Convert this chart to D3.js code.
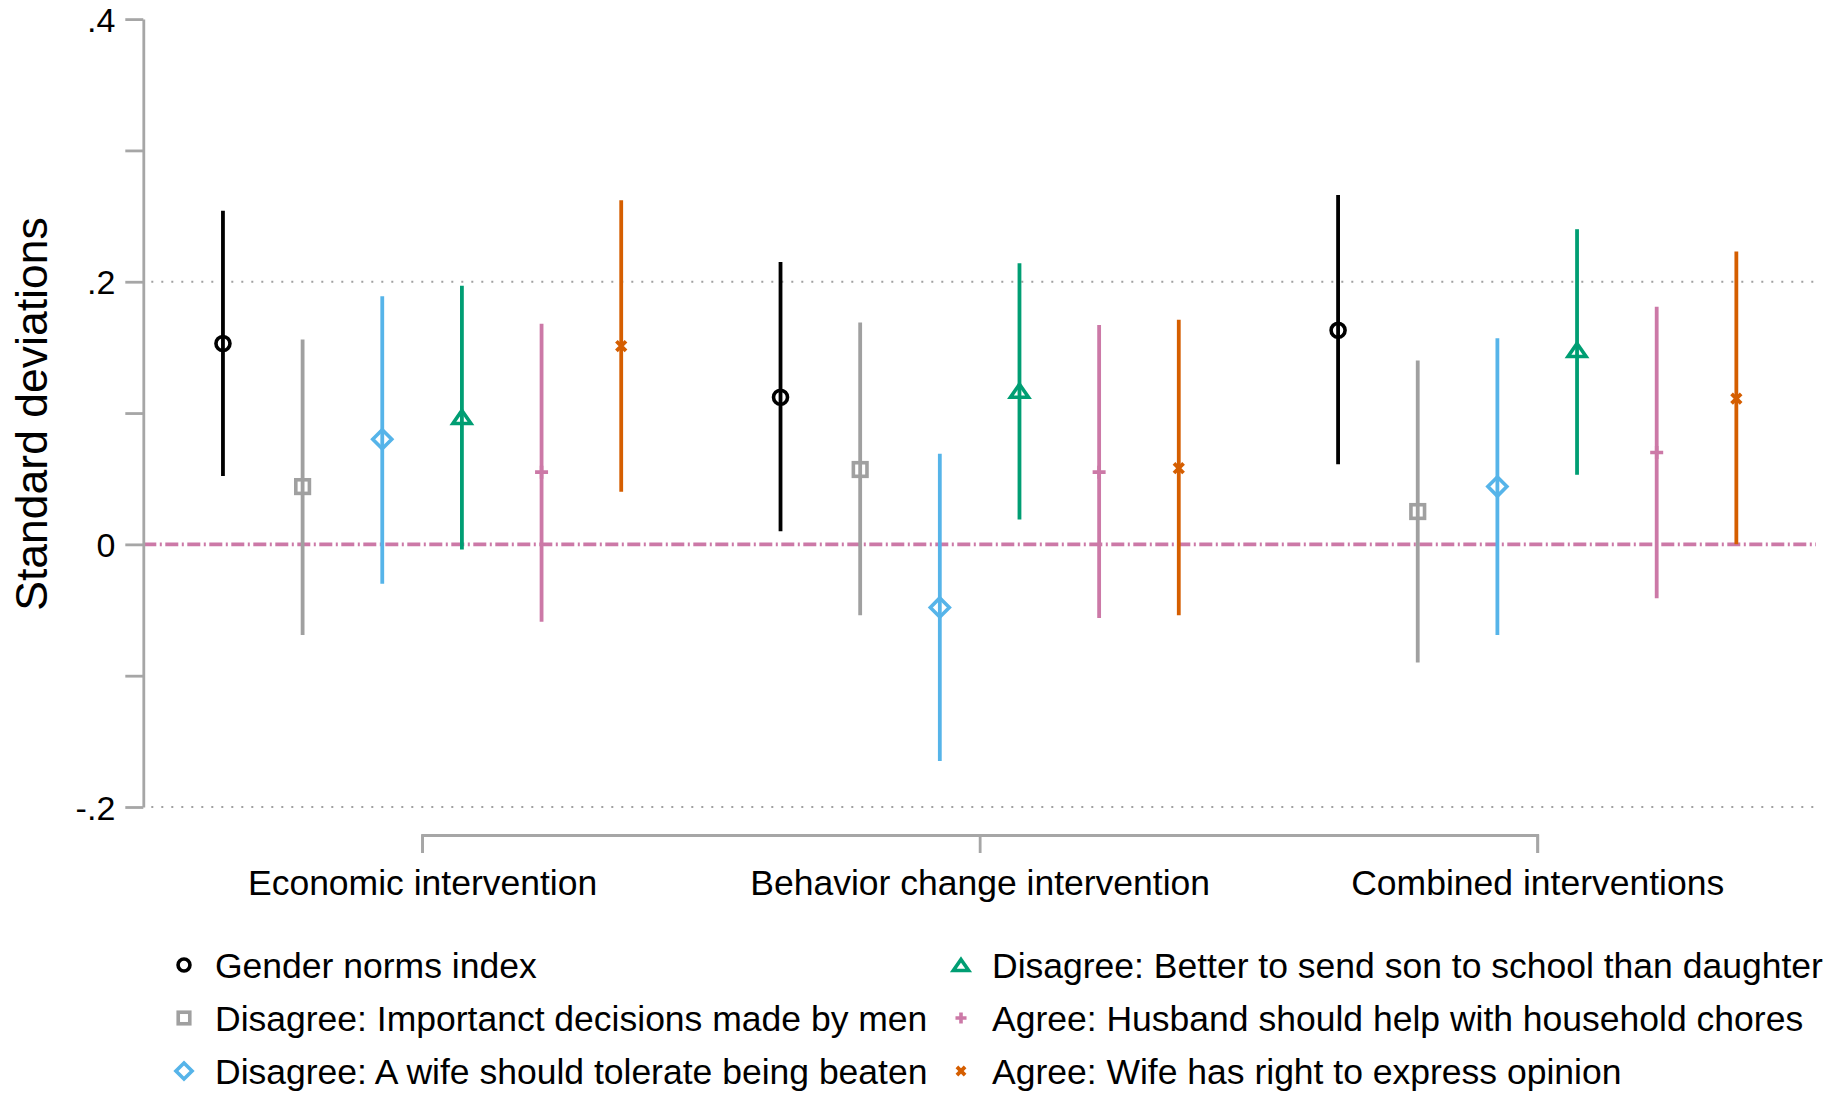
<!DOCTYPE html>
<html><head><meta charset="utf-8">
<script src="https://cdn.jsdelivr.net/npm/d3@7"></script>
<style>
body{margin:0;background:#fff}
svg{display:block}
text{font-family:"Liberation Sans",Arial,Helvetica,sans-serif;fill:#000}
</style>
</head><body>
<svg id="chart" width="1837" height="1093"></svg>
<script>
// ---------------- data ----------------
const groups = ["Economic intervention", "Behavior change intervention", "Combined interventions"];
const seriesNames = [
  "Gender norms index",
  "Disagree: Importanct decisions made by men",
  "Disagree: A wife should tolerate being beaten",
  "Disagree: Better to send son to school than daughter",
  "Agree: Husband should help with household chores",
  "Agree: Wife has right to express opinion"
];
const seriesColors = ["#000000", "#a0a0a0", "#56b4e9", "#009e73", "#cc79a7", "#d55e00"];
const seriesSymbols = ["circle", "square", "diamond", "triangle", "plus", "cross"];
// one row per series, one value per group
const estimates = [
  [0.153, 0.112, 0.163],
  [0.044, 0.057, 0.025],
  [0.080, -0.048, 0.044],
  [0.097, 0.117, 0.148],
  [0.055, 0.055, 0.070],
  [0.151, 0.058, 0.111]
];
const lowerCI = [
  [0.052, 0.010, 0.061],
  [-0.069, -0.054, -0.090],
  [-0.030, -0.165, -0.069],
  [-0.004, 0.019, 0.053],
  [-0.059, -0.056, -0.041],
  [0.040, -0.054, 0.000]
];
const upperCI = [
  [0.254, 0.215, 0.266],
  [0.156, 0.169, 0.140],
  [0.189, 0.069, 0.157],
  [0.197, 0.214, 0.240],
  [0.168, 0.167, 0.181],
  [0.262, 0.171, 0.223]
];
const yTicks = [-0.2, -0.1, 0, 0.1, 0.2, 0.3, 0.4];
const yTickLabels = ["-.2", "", "0", "", ".2", "", ".4"];
const gridValues = [-0.2, 0.2];
const yTitle = "Standard deviations";

// ---------------- layout ----------------
const svg = d3.select("#chart");
const axisGray = "#a6a6a6";
const x = d3.scaleLinear().domain([0.5, 3.5]).range([143.3, 1816]);
const y = d3.scaleLinear().domain([-0.2, 0.4]).range([807, 19.1]);
const nS = seriesNames.length;
const offset = i => (i - (nS - 1) / 2) / (nS + 1);

// grid lines
svg.append("g").selectAll("line").data(gridValues).join("line")
  .attr("x1", x(0.5) + 8).attr("x2", x(3.5))
  .attr("y1", d => y(d)).attr("y2", d => y(d))
  .attr("stroke", "#a0a0a0").attr("stroke-width", 2)
  .attr("stroke-dasharray", "2 8");

// zero reference line
svg.append("line")
  .attr("x1", x(0.5)).attr("x2", x(3.5))
  .attr("y1", y(0)).attr("y2", y(0))
  .attr("stroke", "#cc79a7").attr("stroke-width", 3.6)
  .attr("stroke-dasharray", "13 3.5 2 3.5");

// y axis
const yAxis = d3.axisLeft(y).tickValues(yTicks).tickSize(18).tickSizeOuter(0)
  .tickPadding(10).tickFormat((d, i) => yTickLabels[i]);
const gy = svg.append("g").attr("transform", `translate(${x(0.5)},0)`).call(yAxis);
gy.select(".domain").attr("stroke", axisGray).attr("stroke-width", 2.8);
gy.selectAll(".tick line").attr("stroke", axisGray).attr("stroke-width", 2.8);
gy.selectAll(".tick text").attr("font-size", 34).attr("dy", "0.36em").attr("fill", "#000");

// y title
svg.append("text")
  .attr("transform", `translate(47,414) rotate(-90)`)
  .attr("text-anchor", "middle").attr("font-size", 44.5)
  .text(yTitle);

// group bracket axis
const xg = x.copy().domain([1, 3]).range([x(1), x(3)]);
const xAxis = d3.axisBottom(xg).tickValues([1, 2, 3]).tickSize(18).tickSizeOuter(18)
  .tickFormat(d => groups[d - 1]);
const gx = svg.append("g").attr("transform", "translate(0,835)").call(xAxis);
gx.select(".domain").attr("stroke", axisGray).attr("stroke-width", 2.8).attr("fill", "none");
gx.selectAll(".tick line").attr("stroke", axisGray).attr("stroke-width", 2.8);
gx.selectAll(".tick text").attr("font-size", 35.5).attr("y", 60).attr("dy", 0).attr("fill", "#000");

// marker drawing
function drawMarker(g, type, cx, cy, color, s) {
  s = s || 1;
  const sw = 3.6;
  if (type === "circle") {
    g.append("circle").attr("cx", cx).attr("cy", cy).attr("r", 7 * s)
      .attr("fill", "none").attr("stroke", color).attr("stroke-width", sw);
  } else if (type === "square") {
    const h = 6.8 * s;
    g.append("rect").attr("x", cx - h).attr("y", cy - h).attr("width", 2 * h).attr("height", 2 * h)
      .attr("fill", "none").attr("stroke", color).attr("stroke-width", sw);
  } else if (type === "diamond") {
    const h = 9.5 * s;
    g.append("path").attr("d", `M${cx},${cy - h}L${cx + h},${cy}L${cx},${cy + h}L${cx - h},${cy}Z`)
      .attr("fill", "none").attr("stroke", color).attr("stroke-width", sw);
  } else if (type === "triangle") {
    const w = 9 * s, h = 6.5 * s;
    g.append("path").attr("d", `M${cx},${cy - h}L${cx + w},${cy + h}L${cx - w},${cy + h}Z`)
      .attr("fill", "none").attr("stroke", color).attr("stroke-width", sw).attr("stroke-linejoin", "miter");
  } else if (type === "plus") {
    const h = 6.5 * s;
    g.append("path").attr("d", `M${cx - h},${cy}H${cx + h}M${cx},${cy - h}V${cy + h}`)
      .attr("fill", "none").attr("stroke", color).attr("stroke-width", sw);
  } else if (type === "cross") {
    const h = 4.8 * s;
    g.append("path").attr("d", `M${cx - h},${cy - h}L${cx + h},${cy + h}M${cx + h},${cy - h}L${cx - h},${cy + h}`)
      .attr("fill", "none").attr("stroke", color).attr("stroke-width", 3.8);
  }
}

// CI lines and points
const marks = svg.append("g");
seriesNames.forEach((name, si) => {
  const sg = marks.append("g");
  groups.forEach((gname, gi) => {
    const px = x(gi + 1 + offset(si));
    sg.append("line")
      .attr("x1", px).attr("x2", px)
      .attr("y1", y(lowerCI[si][gi])).attr("y2", y(upperCI[si][gi]))
      .attr("stroke", seriesColors[si]).attr("stroke-width", 3.8);
    drawMarker(sg, seriesSymbols[si], px, y(estimates[si][gi]), seriesColors[si]);
  });
});

// legend
const legend = svg.append("g");
const legCols = [184, 961];
const legRows = [965, 1018, 1071];
seriesNames.forEach((name, si) => {
  const col = Math.floor(si / 3), row = si % 3;
  const lx = legCols[col], ly = legRows[row];
  drawMarker(legend, seriesSymbols[si], lx, ly, seriesColors[si], 0.85);
  legend.append("text").attr("x", lx + 31).attr("y", ly).attr("dy", "0.36em")
    .attr("font-size", 35.5).text(name);
});
</script>
</body></html>
